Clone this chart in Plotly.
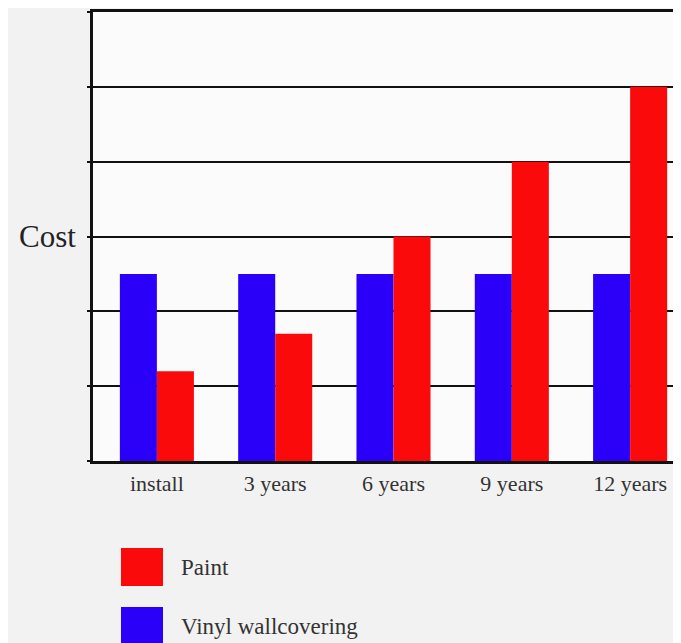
import plotly.graph_objects as go

categories = ["install", "3 years", "6 years", "9 years", "12 years"]
series_names = ["Vinyl wallcovering", "Paint"]
vinyl_values = [2.5, 2.5, 2.5, 2.5, 2.5]
paint_values = [1.2, 1.7, 3.0, 4.0, 5.0]
y_label = "Cost"

BLUE = "#2a00f8"
RED = "#fa0a0a"
FONT = "Liberation Serif"
TXT = "#333333"

# page has an 8px body margin; window positions are shifted by OFF
OFF = 8
W, H = 681 - OFF, 643 - OFF
L, R, T, B = 93 - OFF, 0, 12 - OFF, 643 - 461
pw, ph = W - L - R, H - T - B

def px(x):
    # window x -> paper fraction
    return (x - OFF - L) / pw

def py(y):
    # window y -> paper fraction
    return (H - B - (y - OFF)) / ph

fig = go.Figure()
fig.add_trace(go.Bar(x=list(range(len(categories))), y=vinyl_values, name=series_names[0],
                     marker=dict(color=BLUE, line=dict(width=0))))
fig.add_trace(go.Bar(x=list(range(len(categories))), y=paint_values, name=series_names[1],
                     marker=dict(color=RED, line=dict(width=0))))

fig.update_layout(
    width=W, height=H,
    margin=dict(l=L, r=R, t=T, b=B, pad=0),
    paper_bgcolor="#f2f2f2",
    plot_bgcolor="#fbfbfb",
    barmode="group",
    bargap=0.374,
    bargroupgap=0,
    showlegend=False,
    font=dict(family=FONT, color=TXT),
    xaxis=dict(
        range=[-0.54, 4.43],
        tickmode="array",
        tickvals=list(range(len(categories))),
        ticktext=categories,
        tickfont=dict(family=FONT, size=22, color=TXT),
        showgrid=False,
        zeroline=False,
        showline=True, linecolor="#111111", linewidth=2.5, mirror=True,
        ticks="",
        ticklabelstandoff=1,
    ),
    yaxis=dict(
        range=[0, 6],
        dtick=1,
        showgrid=True, gridcolor="#111111", gridwidth=2,
        zeroline=False,
        showline=True, linecolor="#111111", linewidth=2.5,
        ticks="outside", ticklen=3, tickcolor="#111111", tickwidth=2,
        showticklabels=False,
    ),
)

fig.add_annotation(x=px(78), xref="paper", xanchor="right", y=3, yref="y", yanchor="middle",
                   text=y_label, showarrow=False, font=dict(family=FONT, size=31, color="#222222"))

legend_items = [(series_names[1], RED, 548, 586, 567), (series_names[0], BLUE, 607, 645, 626)]
for name, col, y0, y1, yc in legend_items:
    fig.add_shape(type="rect", xref="paper", yref="paper", x0=px(121), x1=px(163),
                  y0=py(y1), y1=py(y0), fillcolor=col, line=dict(width=0))
    fig.add_annotation(x=px(179), xref="paper", xanchor="left", y=py(yc), yref="paper",
                       yanchor="middle", text=name, showarrow=False,
                       font=dict(family=FONT, size=23, color=TXT))

fig.write_html("out.html")
